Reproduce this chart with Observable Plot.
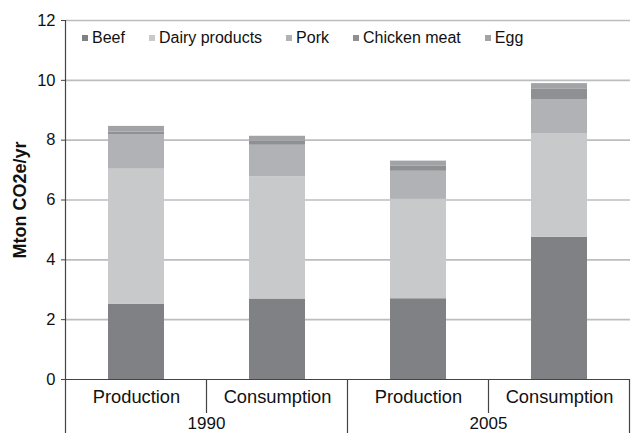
<!DOCTYPE html>
<html><head><meta charset="utf-8">
<script src="https://cdn.jsdelivr.net/npm/d3@7"></script>
<script src="https://cdn.jsdelivr.net/npm/@observablehq/plot@0.6"></script>
<style>
body{margin:0;background:#fff;font-family:"Liberation Sans",Arial,sans-serif}
#wrap{position:relative;width:631px;height:433px}
#legend{position:absolute;top:29px;left:82px;font-size:16px;display:flex;align-items:center;color:#111;white-space:nowrap}
#legend .it{display:flex;align-items:center;margin-right:24px}
#legend .sw{width:6px;height:6px;margin-right:4px;display:inline-block}
</style></head><body><div id="wrap"><div id="legend"></div></div>
<script>
// ---- data ----
const groups = ["1990", "1990", "2005", "2005"];
const types = ["Production", "Consumption", "Production", "Consumption"];
const series = ["Beef", "Dairy products", "Pork", "Chicken meat", "Egg"];
const beef = [2.52, 2.69, 2.70, 4.75];
const dairy = [4.51, 4.08, 3.32, 3.47];
const pork = [1.16, 1.06, 0.94, 1.14];
const chicken = [0.08, 0.13, 0.18, 0.34];
const egg = [0.19, 0.17, 0.16, 0.19];
const yTicks = [0, 2, 4, 6, 8, 10, 12];
const yLabel = "Mton CO2e/yr";
const colors = ["#808184", "#c8c9cb", "#b1b2b5", "#8f9093", "#a2a3a6"];

const values = [beef, dairy, pork, chicken, egg];
const keys = groups.map((g, i) => g + "|" + types[i]);
const data = [];
series.forEach((s, si) => values[si].forEach((v, i) => data.push({key: keys[i], series: s, value: v})));

const plot = Plot.plot({
  width: 631, height: 433,
  marginLeft: 65, marginRight: 1, marginTop: 20, marginBottom: 54,
  style: {fontFamily: "'Liberation Sans', Arial, sans-serif", fontSize: "16px", background: "#fff", color: "#111"},
  x: {domain: keys, paddingInner: 0.6, paddingOuter: 0.3, axis: null},
  y: {domain: [0, 12], axis: null},
  color: {domain: series, range: colors},
  marks: [
    Plot.gridY(yTicks.filter(d => d > 0), {stroke: "#bdbdbf", strokeOpacity: 1, strokeWidth: 1.6}),
    Plot.barY(data, {x: "key", y: "value", fill: "series", order: series}),
    Plot.ruleY([0], {stroke: "#444", strokeWidth: 1.2}),
    Plot.frame({anchor: "left", stroke: "#444", strokeWidth: 1.2}),
    Plot.axisY({ticks: yTicks, tickSize: 4, tickPadding: 6, label: null, fontSize: 16.5, stroke: "#444"}),
    Plot.axisX({tickSize: 0, tickPadding: 10, tickFormat: d => d.split("|")[1], fontSize: 18.3, label: null}),
    Plot.text([yLabel], {frameAnchor: "left", textAnchor: "middle", text: d => d, rotate: -90, dx: -45, fontWeight: "bold", fontSize: 18})
  ]
});
document.getElementById("wrap").appendChild(plot);

// grouped bottom axis: separators and year labels
const xs = plot.scale("x"), ys = plot.scale("y");
const step = xs.step, bw = xs.bandwidth, half = (step - bw) / 2;
const y0 = ys.apply(0), yBottom = 433;
const svg = d3.select(plot);
const bounds = keys.map(k => xs.apply(k) - half);
bounds.push(xs.apply(keys[keys.length - 1]) + bw + half);
const g = svg.append("g").attr("stroke", "#444").attr("stroke-width", 1.2);
bounds.forEach((b, i) => {
  const isGroupEdge = i === 0 || i === bounds.length - 1 || groups[i] !== groups[i - 1];
  g.append("line").attr("x1", b).attr("x2", b).attr("y1", y0).attr("y2", isGroupEdge ? yBottom : y0 + 34);
});
const uniq = [...new Set(groups)];
uniq.forEach(gr => {
  const idx = groups.map((d, i) => d === gr ? i : -1).filter(i => i >= 0);
  const x1 = bounds[idx[0]], x2 = bounds[idx[idx.length - 1] + 1];
  svg.append("text").attr("x", (x1 + x2) / 2).attr("y", 429).attr("text-anchor", "middle")
    .attr("font-size", 17).attr("fill", "#111").text(gr);
});

// legend
const color = plot.scale("color");
const leg = d3.select("#legend");
series.forEach(s => {
  const it = leg.append("div").attr("class", "it");
  it.append("span").attr("class", "sw").style("background", color.apply(s));
  it.append("span").text(s);
});
</script></body></html>
